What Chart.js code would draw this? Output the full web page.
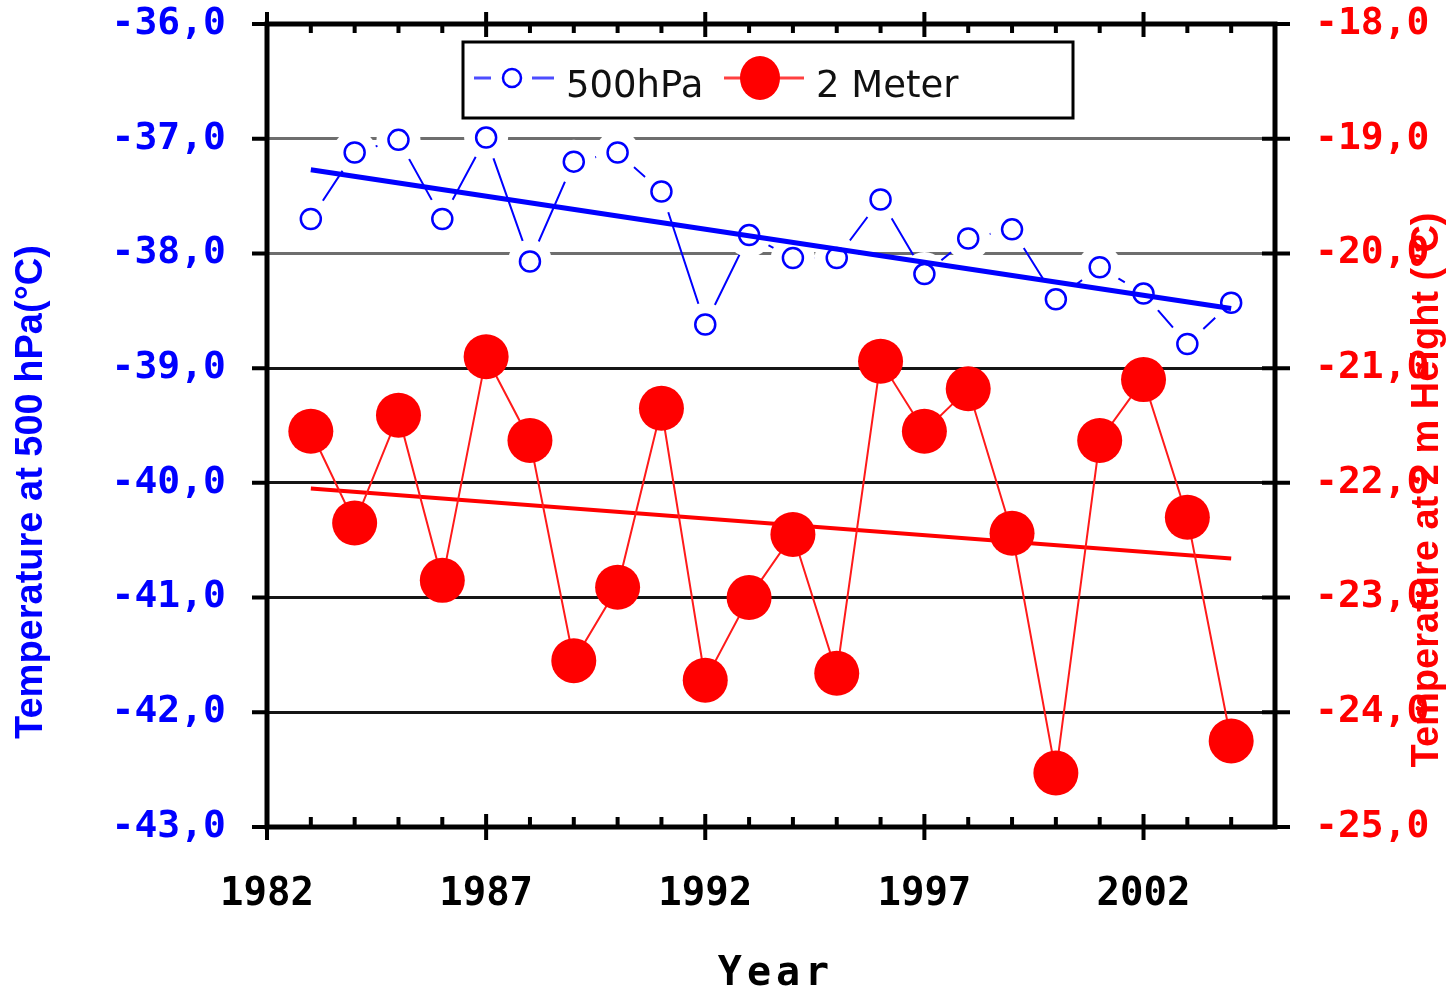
<!DOCTYPE html>
<html>
<head>
<meta charset="utf-8">
<script src="https://cdn.jsdelivr.net/npm/chart.js@4"></script>
<style>
  body { margin: 0; background: #fff; }
</style>
</head>
<body>
<canvas id="chart" width="1449" height="990"></canvas>
<script>
// yearly means
const years = [1983, 1984, 1985, 1986, 1987, 1988, 1989, 1990, 1991, 1992, 1993,
               1994, 1995, 1996, 1997, 1998, 1999, 2000, 2001, 2002, 2003, 2004];
const t500 = [-37.70, -37.12, -37.01, -37.70, -36.99, -38.07, -37.20, -37.12, -37.46, -38.62, -37.84,
              -38.04, -38.04, -37.53, -38.18, -37.87, -37.79, -38.40, -38.12, -38.35, -38.79, -38.43];
const t2m = [-21.55, -22.35, -21.41, -22.85, -20.90, -21.63, -23.55, -22.91, -21.35, -23.72, -23.00,
             -22.45, -23.66, -20.94, -21.55, -21.18, -22.44, -24.53, -21.63, -21.10, -22.30, -24.25];

// linear trends (end points)
const trendYears = [1983, 2004];
const trend500 = [-37.27, -38.48];
const trend2m = [-22.05, -22.66];

const seriesNames = ['500hPa', '2 Meter'];
const titleLeft = 'Temperature at 500 hPa(°C)';
const titleRight = 'Temperature at 2 m Height (°C)';
const titleX = 'Year';

const pts = (xs, ys) => xs.map((x, i) => ({ x: x, y: ys[i] }));
const comma = v => v.toFixed(1).replace('.', ',');

// frame, tick marks, axis titles and the boxed legend
const decor = {
  id: 'decor',
  afterDatasetsDraw(chart) {
    const ctx = chart.ctx;
    const a = chart.chartArea;
    const sx = chart.scales.x, sy = chart.scales.y;
    ctx.save();
    ctx.strokeStyle = '#000';
    ctx.lineWidth = 5;
    ctx.strokeRect(a.left, a.top, a.right - a.left, a.bottom - a.top);

    ctx.lineWidth = 4;
    for (let v = -43; v <= -36; v++) {
      const y = sy.getPixelForValue(v);
      ctx.beginPath();
      ctx.moveTo(a.left - 15, y); ctx.lineTo(a.left, y);
      ctx.moveTo(a.right - 13, y); ctx.lineTo(a.right + 15, y);
      ctx.stroke();
    }
    for (let yr = 1982; yr <= 2005; yr++) {
      const x = sx.getPixelForValue(yr);
      const major = (yr - 1982) % 5 === 0;
      ctx.beginPath();
      if (major) {
        ctx.moveTo(x, a.bottom - 13); ctx.lineTo(x, a.bottom + 13);
        ctx.moveTo(x, a.top - 12); ctx.lineTo(x, a.top + 13);
      } else {
        ctx.moveTo(x, a.bottom - 10); ctx.lineTo(x, a.bottom);
        ctx.moveTo(x, a.top); ctx.lineTo(x, a.top + 9);
      }
      ctx.stroke();
    }

    // axis titles
    ctx.font = 'bold 38px "Liberation Sans", Arial, sans-serif';
    ctx.textAlign = 'center';
    ctx.textBaseline = 'middle';
    ctx.fillStyle = '#0000ff';
    ctx.save();
    ctx.translate(32, 492);
    ctx.rotate(-Math.PI / 2);
    ctx.fillText(titleLeft, 0, 0);
    ctx.restore();
    ctx.fillStyle = '#ff0000';
    ctx.save();
    ctx.translate(1428, 490);
    ctx.rotate(-Math.PI / 2);
    ctx.fillText(titleRight, 0, 0);
    ctx.restore();

    ctx.fillStyle = '#000';
    ctx.font = 'bold 40px "DejaVu Sans Mono", monospace';
    ctx.letterSpacing = '5px';
    ctx.textBaseline = 'alphabetic';
    ctx.fillText(titleX, 776, 985);
    ctx.letterSpacing = '0px';

    // legend
    ctx.fillStyle = '#fff';
    ctx.fillRect(463, 42, 610, 76);
    ctx.lineWidth = 3;
    ctx.strokeStyle = '#000';
    ctx.strokeRect(463, 42, 610, 76);

    ctx.strokeStyle = '#4d4dff';
    ctx.lineWidth = 3;
    ctx.beginPath();
    ctx.moveTo(474, 78); ctx.lineTo(491, 78);
    ctx.moveTo(532, 78); ctx.lineTo(554, 78);
    ctx.stroke();
    ctx.strokeStyle = '#0000ff';
    ctx.lineWidth = 2.5;
    ctx.beginPath();
    ctx.arc(512, 78, 9, 0, Math.PI * 2);
    ctx.stroke();

    ctx.strokeStyle = '#ff4040';
    ctx.lineWidth = 3;
    ctx.beginPath();
    ctx.moveTo(724, 78); ctx.lineTo(804, 78);
    ctx.stroke();
    ctx.fillStyle = '#ff0000';
    ctx.beginPath();
    ctx.ellipse(760, 78, 20, 22, 0, 0, Math.PI * 2);
    ctx.fill();

    ctx.fillStyle = '#111';
    ctx.font = '37px "DejaVu Sans", sans-serif';
    ctx.textAlign = 'left';
    ctx.textBaseline = 'alphabetic';
    ctx.fillText(seriesNames[0], 566, 97);
    ctx.fillText(seriesNames[1], 816, 97);
    ctx.restore();
  }
};

const fitV = w => s => { s.width = w; s.paddingTop = 0; s.paddingBottom = 0; };

new Chart(
  document.getElementById('chart'),
  {
    type: 'line',
    data: {
      datasets: [
        {
          label: seriesNames[1],
          data: pts(years, t2m),
          yAxisID: 'y2',
          borderColor: '#ff1a1a',
          borderWidth: 2,
          pointRadius: 22.5,
          pointBackgroundColor: '#ff0000',
          pointBorderWidth: 0,
          order: 0
        },
        {
          label: 'trend 2 m',
          data: pts(trendYears, trend2m),
          yAxisID: 'y2',
          borderColor: '#ff0000',
          borderWidth: 4,
          pointRadius: 0,
          order: 1
        },
        {
          label: 'trend 500',
          data: pts(trendYears, trend500),
          yAxisID: 'y',
          borderColor: '#0000ff',
          borderWidth: 5,
          pointRadius: 0,
          order: 2
        },
        {
          label: seriesNames[0],
          data: pts(years, t500),
          yAxisID: 'y',
          showLine: false,
          pointRadius: 10,
          pointBorderWidth: 2.5,
          pointBorderColor: '#0000ff',
          pointBackgroundColor: 'rgba(0,0,0,0)',
          order: 3
        },
        {
          // white halo that breaks the thin line and grid round each marker
          label: 'halo',
          data: pts(years, t500),
          yAxisID: 'y',
          showLine: false,
          pointRadius: 22,
          pointBorderWidth: 0,
          pointBackgroundColor: '#fff',
          order: 4
        },
        {
          label: 'line 500',
          data: pts(years, t500),
          yAxisID: 'y',
          borderColor: '#0000ff',
          borderWidth: 2,
          pointRadius: 0,
          order: 5
        }
      ]
    },
    options: {
      responsive: false,
      animation: false,
      devicePixelRatio: 1,
      layout: { padding: { top: 24, left: 0, right: 0, bottom: 0 } },
      plugins: {
        legend: { display: false },
        tooltip: { enabled: false }
      },
      scales: {
        x: {
          type: 'linear',
          min: 1982,
          max: 2005,
          afterFit: s => { s.height = 163; s.paddingLeft = 0; s.paddingRight = 0; },
          grid: { display: false, drawTicks: false },
          border: { display: false },
          ticks: {
            stepSize: 1,
            autoSkip: false,
            maxRotation: 0,
            padding: 44,
            color: '#000',
            font: { family: 'DejaVu Sans Mono', weight: 'bold', size: 39 },
            callback: v => ((v - 1982) % 5 === 0 ? String(v) : '')
          }
        },
        y: {
          position: 'left',
          min: -43,
          max: -36,
          afterFit: fitV(267),
          border: { display: false },
          grid: {
            drawTicks: false,
            lineWidth: 3,
            color: c => (c.tick && c.tick.value >= -38 ? '#6e6e6e' : '#151515')
          },
          ticks: {
            stepSize: 1,
            padding: 41,
            color: '#0000ff',
            font: { family: 'DejaVu Sans Mono', weight: 'bold', size: 38 },
            callback: v => comma(v)
          }
        },
        y2: {
          position: 'right',
          min: -25,
          max: -18,
          afterFit: fitV(174),
          border: { display: false },
          grid: { display: false, drawTicks: false },
          ticks: {
            stepSize: 1,
            padding: 40,
            color: '#ff0000',
            font: { family: 'DejaVu Sans Mono', weight: 'bold', size: 38 },
            callback: v => comma(v)
          }
        }
      }
    },
    plugins: [decor]
  }
);
</script>
</body>
</html>
